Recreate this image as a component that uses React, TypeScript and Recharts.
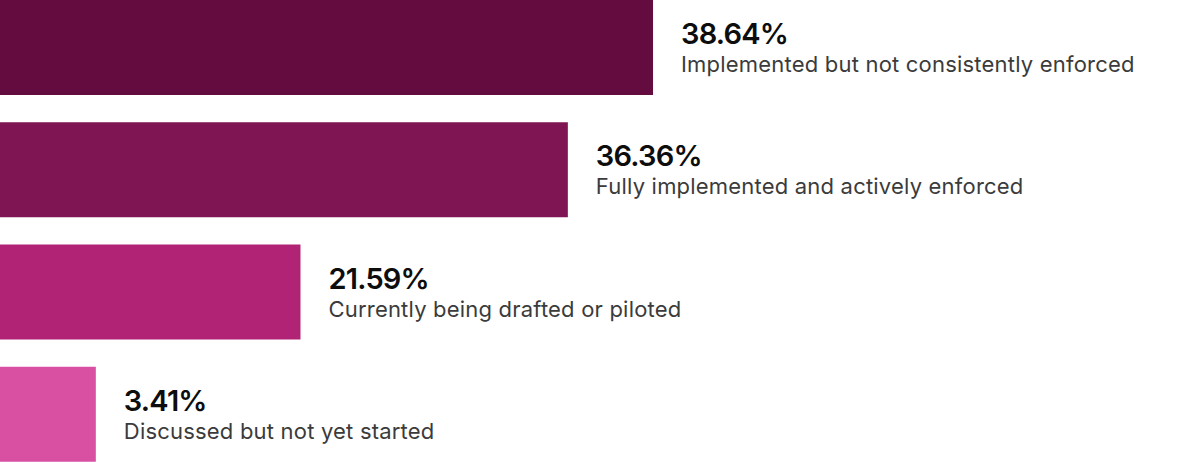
import React from "react";
import { BarChart, Bar, XAxis, YAxis, Cell, LabelList } from "recharts";

const categories = [
  "Implemented but not consistently enforced",
  "Fully implemented and actively enforced",
  "Currently being drafted or piloted",
  "Discussed but not yet started",
];
const shares = [38.64, 36.36, 21.59, 3.41];
// bar lengths as drawn in the source (not proportional to the shares), in % of full width
const barLengths = [55.2, 48.0, 25.4, 8.1];
const colors = ["#640c40", "#7f1552", "#b12374", "#d94fa2"];

const data = categories.map((name, i) => ({
  name,
  share: shares[i],
  length: barLengths[i],
}));

const FONT = "Inter, 'Noto Sans', sans-serif";

function BarLabel(props: any) {
  const { x, y, width, index } = props;
  const left = Number(x) + Number(width) + 28;
  const top = Number(y);
  return (
    <g>
      <text
        x={left}
        y={top + 44}
        fontFamily={FONT}
        fontSize={29}
        fontWeight={600}
        letterSpacing={-0.8}
        fill="#0d0d0d"
      >
        {shares[index].toFixed(2)}%
      </text>
      <text x={left} y={top + 72} fontFamily={FONT} fontSize={22} letterSpacing={0.2} fill="#3b3b3b">
        {categories[index]}
      </text>
    </g>
  );
}

export default function App() {
  return (
    <div
      style={{
        position: "fixed",
        left: 0,
        top: 0,
        width: 1183,
        height: 462,
        overflow: "hidden",
        background: "#fff",
      }}
    >
      <div style={{ marginTop: -14 }}>
        <BarChart
          width={1183}
          height={489}
          data={data}
          layout="vertical"
          margin={{ top: 0, right: 0, bottom: 0, left: 0 }}
        >
          <XAxis type="number" domain={[0, 100]} hide />
          <YAxis type="category" dataKey="name" hide />
          <Bar dataKey="length" barSize={95} isAnimationActive={false}>
            {data.map((d, i) => (
              <Cell key={d.name} fill={colors[i]} />
            ))}
            <LabelList dataKey="share" content={BarLabel} />
          </Bar>
        </BarChart>
      </div>
    </div>
  );
}
